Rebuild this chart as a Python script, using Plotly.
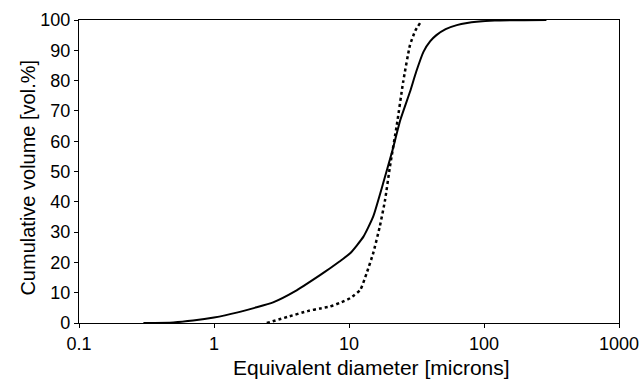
import plotly.graph_objects as go

# Solid curve
solid_x = [0.3, 0.5, 0.7, 1.0, 1.5, 2.0, 2.74, 4.0, 6.1, 7.2, 8.5, 10.2, 12.8, 15.1, 17.9, 20.7, 24.0, 28.3, 31.5, 35.6, 40.0, 44.4, 52.0, 62.9, 75.0, 88.0, 120.0, 290.0]
solid_y = [0.0, 0.2, 0.8, 1.8, 3.5, 5.0, 6.8, 10.5, 15.8, 18.0, 20.3, 23.0, 28.5, 35.1, 46.1, 56.0, 67.0, 76.3, 83.0, 89.5, 93.0, 95.0, 97.0, 98.3, 99.0, 99.4, 99.8, 100.0]

# Dotted curve
dot_x = [2.46, 3.5, 5.0, 6.1, 7.2, 8.5, 10.2, 12.1, 13.5, 15.1, 16.9, 18.5, 20.1, 22.6, 25.2, 28.3, 31.0, 33.6]
dot_y = [0.0, 2.0, 4.0, 4.8, 5.4, 6.6, 8.2, 10.9, 16.4, 23.0, 31.8, 40.6, 51.6, 65.3, 79.6, 91.7, 96.5, 99.0]

x_ticks = [0.1, 1, 10, 100, 1000]
x_ticklabels = ["0.1", "1", "10", "100", "1000"]
y_ticks = [0, 10, 20, 30, 40, 50, 60, 70, 80, 90, 100]

x_title = "Equivalent diameter [microns]"
y_title = "Cumulative volume [vol.%]"

fig = go.Figure()
fig.add_trace(go.Scatter(x=solid_x, y=solid_y, mode="lines", line=dict(color="black", width=2, shape="spline", smoothing=0.5), showlegend=False))
fig.add_trace(go.Scatter(x=dot_x, y=dot_y, mode="lines", line=dict(color="black", width=2.5, dash="dot", shape="spline", smoothing=0.5), showlegend=False))

font = "Liberation Sans, Arial, Helvetica, sans-serif"
fig.update_layout(
    width=639, height=379,
    margin=dict(l=79, r=20, t=20, b=56),
    paper_bgcolor="white", plot_bgcolor="white",
    font=dict(family=font, size=16, color="black"),
    showlegend=False,
)
fig.update_xaxes(
    type="log", range=[-1, 3], automargin=False,
    tickvals=x_ticks, ticktext=x_ticklabels, ticklabeloverflow="allow",
    ticks="outside", ticklen=4, tickwidth=1, tickcolor="black",
    showline=True, linecolor="black", linewidth=1.3, mirror=True,
    showgrid=False, zeroline=False,
    tickfont=dict(size=18),
)
fig.update_yaxes(
    range=[0, 100], automargin=False,
    tickvals=y_ticks,
    ticks="outside", ticklen=4, tickwidth=1, tickcolor="black",
    showline=True, linecolor="black", linewidth=1.3, mirror=True,
    showgrid=False, zeroline=False,
    tickfont=dict(size=18),
)
fig.add_annotation(
    text=x_title, xref="paper", yref="paper", x=0.5417, y=-0.1485,
    xanchor="center", yanchor="middle", showarrow=False, font=dict(size=21),
)
fig.add_annotation(
    text=y_title, xref="paper", yref="paper", x=-0.0944, y=0.48, textangle=-90,
    xanchor="center", yanchor="middle", showarrow=False, font=dict(size=20),
)

fig.write_html("out.html")
